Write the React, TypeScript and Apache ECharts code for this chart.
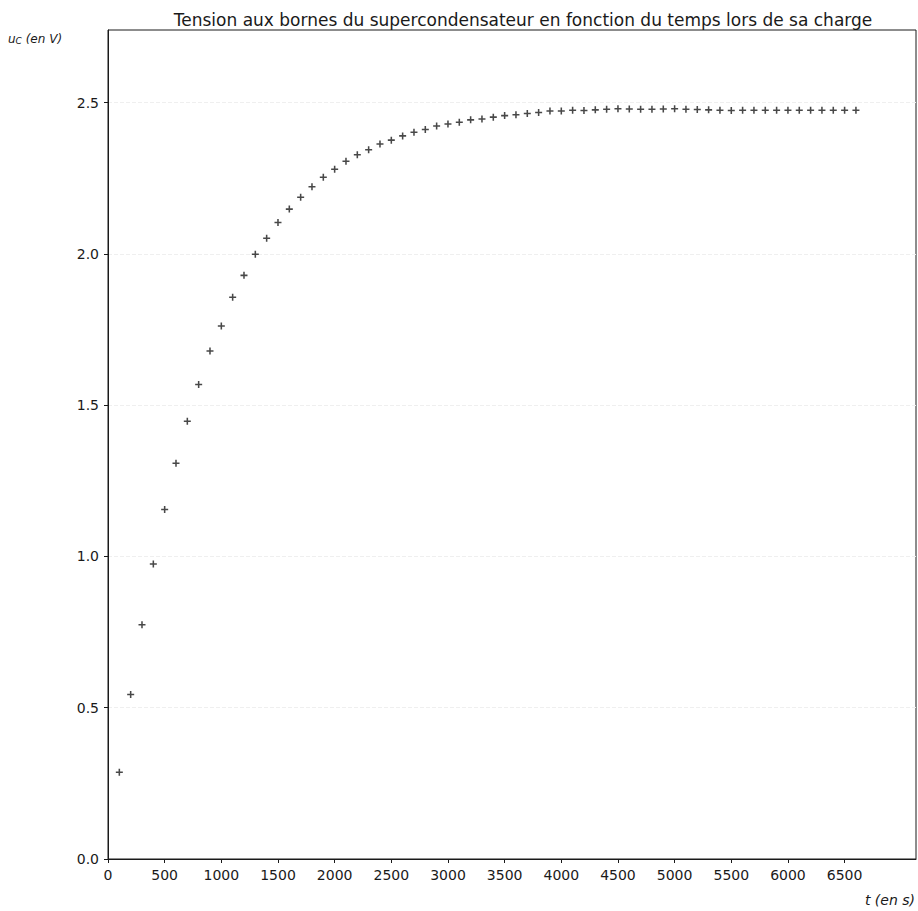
import React, { useEffect, useRef } from "react";
import * as echarts from "echarts";

const titleText = "Tension aux bornes du supercondensateur en fonction du temps lors de sa charge";

const tValues = [
  100, 200, 300, 400, 500, 600, 700, 800, 900, 1000,
  1100, 1200, 1300, 1400, 1500, 1600, 1700, 1800, 1900, 2000,
  2100, 2200, 2300, 2400, 2500, 2600, 2700, 2800, 2900, 3000,
  3100, 3200, 3300, 3400, 3500, 3600, 3700, 3800, 3900, 4000,
  4100, 4200, 4300, 4400, 4500, 4600, 4700, 4800, 4900, 5000,
  5100, 5200, 5300, 5400, 5500, 5600, 5700, 5800, 5900, 6000,
  6100, 6200, 6300, 6400, 6500, 6600,
];

const uValues = [
  0.287, 0.544, 0.774, 0.975, 1.155, 1.308, 1.447, 1.568, 1.679, 1.762,
  1.857, 1.929, 1.999, 2.052, 2.104, 2.148, 2.187, 2.222, 2.253, 2.28,
  2.306, 2.328, 2.344, 2.363, 2.376, 2.39, 2.402, 2.411, 2.423, 2.429,
  2.435, 2.443, 2.446, 2.452, 2.457, 2.46, 2.464, 2.467, 2.472, 2.472,
  2.475, 2.474, 2.476, 2.478, 2.48, 2.479, 2.478, 2.478, 2.479, 2.48,
  2.478, 2.477, 2.476, 2.475, 2.474, 2.475, 2.475, 2.475, 2.475, 2.475,
  2.475, 2.475, 2.475, 2.475, 2.475, 2.475,
];

const xTicks = [0, 500, 1000, 1500, 2000, 2500, 3000, 3500, 4000, 4500, 5000, 5500, 6000, 6500];
const yTicks = [0, 0.5, 1.0, 1.5, 2.0, 2.5];

const FONT = "DejaVu Sans";
const INK = "#1a1a1a";
const PLUS = "path://M3.9,0h2.2v3.9h3.9v2.2h-3.9v3.9h-2.2v-3.9h-3.9v-2.2h3.9z";

export default function App() {
  const ref = useRef<HTMLDivElement>(null);
  useEffect(() => {
    if (!ref.current) return;
    const chart = echarts.init(ref.current, undefined, { renderer: "svg" });
    chart.setOption({
      animation: false,
      backgroundColor: "#ffffff",
      textStyle: { fontFamily: FONT, color: INK },
      title: {
        text: titleText,
        left: 518,
        textAlign: "center",
        top: 6,
        textStyle: { fontFamily: FONT, fontSize: 17, fontWeight: "normal", color: INK },
      },
      grid: {
        left: 108,
        right: 2,
        top: 30,
        bottom: 52,
        show: true,
        borderColor: INK,
        borderWidth: 1,
        backgroundColor: "transparent",
      },
      xAxis: {
        type: "value",
        min: 0,
        max: 7130,
        interval: 500,
        axisLine: { show: true, onZero: false, lineStyle: { color: INK, width: 1 } },
        axisTick: {
          show: true,
          inside: false,
          length: 4,
          customValues: xTicks,
          lineStyle: { color: INK },
        },
        axisLabel: {
          customValues: xTicks,
          margin: 9,
          fontFamily: FONT,
          fontSize: 14,
          color: INK,
          formatter: (v: number) => String(v),
        },
        splitLine: { show: false },
      },
      yAxis: {
        type: "value",
        min: 0,
        max: 2.74,
        interval: 0.5,
        axisLine: { show: true, onZero: false, lineStyle: { color: INK, width: 1 } },
        axisTick: {
          show: true,
          inside: false,
          length: 4,
          customValues: yTicks,
          lineStyle: { color: INK },
        },
        axisLabel: {
          customValues: yTicks,
          margin: 9,
          fontFamily: FONT,
          fontSize: 14,
          color: INK,
          formatter: (v: number) => v.toFixed(1),
        },
        splitLine: { show: true, lineStyle: { color: "#efefef", type: "dashed", width: 1 } },
      },
      graphic: [
        {
          type: "text",
          left: 8,
          top: 33,
          style: {
            text: "{a|u}{b|C}{a| (en V)}",
            rich: {
              a: { fontFamily: FONT, fontSize: 12, fontStyle: "italic", fill: INK },
              b: { fontFamily: FONT, fontSize: 9, fontStyle: "italic", fill: INK, verticalAlign: "bottom", padding: [4, 0, 0, 0] },
            },
          },
        },
        {
          type: "text",
          right: 3,
          top: 893,
          style: {
            text: "t (en s)",
            fontFamily: FONT,
            fontSize: 14,
            fontStyle: "italic",
            fill: INK,
          },
        },
      ],
      series: [
        {
          type: "scatter",
          data: tValues.map((t, i) => [t, uValues[i]]),
          symbol: PLUS,
          symbolSize: 7,
          itemStyle: { color: INK },
          emphasis: { disabled: true },
        },
      ],
    });
    return () => chart.dispose();
  }, []);
  return (
    <div
      ref={ref}
      style={{ position: "fixed", left: 0, top: 0, width: 918, height: 911, background: "#fff" }}
    />
  );
}
